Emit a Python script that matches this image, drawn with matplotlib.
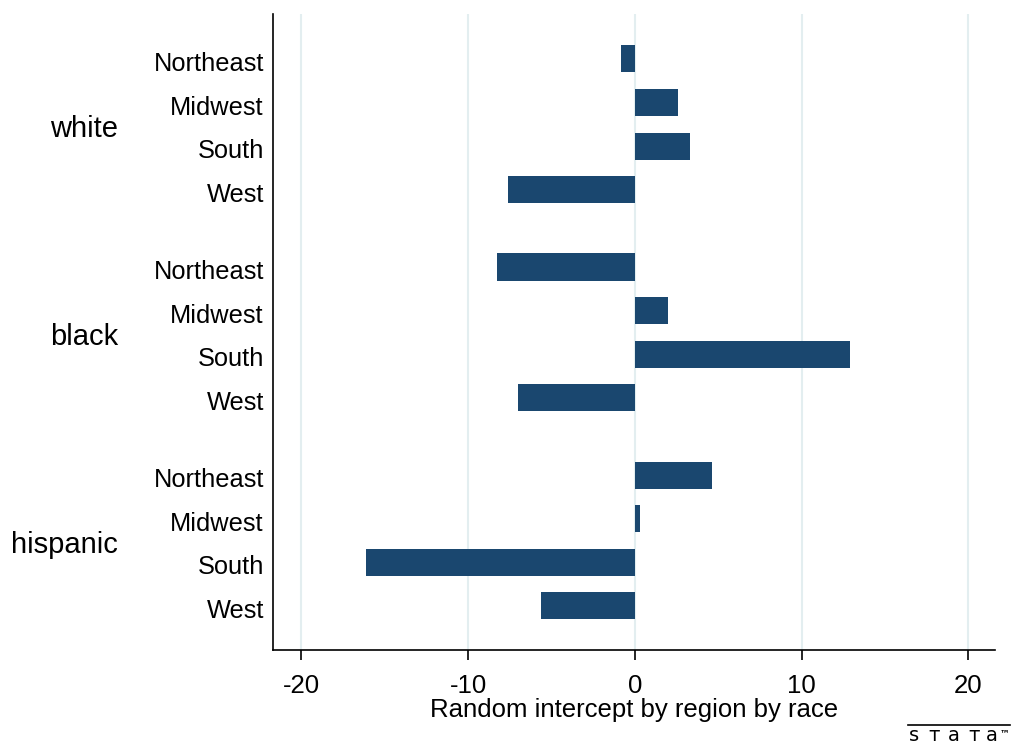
import numpy as np
import matplotlib.pyplot as plt
from matplotlib.transforms import blended_transform_factory, ScaledTranslation

plt.rcParams['font.family'] = ['Liberation Sans', 'DejaVu Sans']

# Données
races = ["white", "black", "hispanic"]
regions = ["Northeast", "Midwest", "South", "West"]
white_vals = [-0.84, 2.57, 3.33, -7.63]
black_vals = [-8.26, 1.98, 12.93, -7.0]
hispanic_vals = [4.61, 0.3, -16.1, -5.63]
xticks = [-20, -10, 0, 10, 20]

all_vals = [white_vals, black_vals, hispanic_vals]
bar_color = "#1a476f"
grid_color = "#e3eef0"

fig = plt.figure(figsize=(10.11, 7.46), dpi=100)
ax = fig.add_axes([273 / 1011, 96 / 746, (995 - 273) / 1011, (650 - 14) / 746])

group_gap = 1.77
ypos = []
labels = []
vals = []
group_centers = []
for g, race in enumerate(races):
    start = g * (len(regions) - 1 + group_gap)
    pos = [start + i for i in range(len(regions))]
    ypos += pos
    labels += regions
    vals += all_vals[g]
    group_centers.append(np.mean(pos))

ax.barh(ypos, vals, height=0.62, color=bar_color, zorder=3)

ax.set_xlim(-21.7, 21.6)
ax.set_ylim(ypos[-1] + 1.01, ypos[0] - 1.03)
ax.set_xticks(xticks)
ax.set_xticklabels([str(t) for t in xticks], fontsize=18.5)
ax.set_yticks(ypos)
ax.set_yticklabels(labels, fontsize=18.3)
ax.tick_params(axis='y', length=0, pad=6.5)
ax.tick_params(axis='x', length=7, width=1.2, pad=10.5, direction='out')
ax.xaxis.grid(True, color=grid_color, linewidth=1.5, zorder=0)
ax.set_axisbelow(True)
for s in ['top', 'right']:
    ax.spines[s].set_visible(False)
for s in ['left', 'bottom']:
    ax.spines[s].set_linewidth(1.2)
ax.set_xlabel("Random intercept by region by race", fontsize=18.5, labelpad=0)

# petit décalage vers le bas des étiquettes
down = ScaledTranslation(0, -2.5 / 100, fig.dpi_scale_trans)
for lab in ax.get_yticklabels():
    lab.set_transform(lab.get_transform() + down)

# Étiquettes des groupes
trans = blended_transform_factory(fig.transFigure, ax.transData) + ScaledTranslation(0, -4.5 / 100, fig.dpi_scale_trans)
for race, yc in zip(races, group_centers):
    ax.text(118 / 1011, yc, race, transform=trans, ha='right', va='center',
            fontsize=21, clip_on=False)

# Logo Stata
logo_chars = ["s", "т", "a", "т", "a"]
logo_x = [914, 934, 954, 974, 992]
for ch, xp in zip(logo_chars, logo_x):
    fig.text(xp / 1011, 5 / 746, ch, ha='center', va='baseline', fontsize=14,
             family='DejaVu Sans')
fig.text(1000 / 1011, 10 / 746, "™", ha='left', va='baseline', fontsize=7,
         family='DejaVu Sans', weight='bold')
fig.add_artist(plt.Line2D([908 / 1011, 1010 / 1011], [21.5 / 746, 21.5 / 746],
                          color='black', linewidth=1.2, transform=fig.transFigure))

fig.savefig("out.png", dpi=100)
